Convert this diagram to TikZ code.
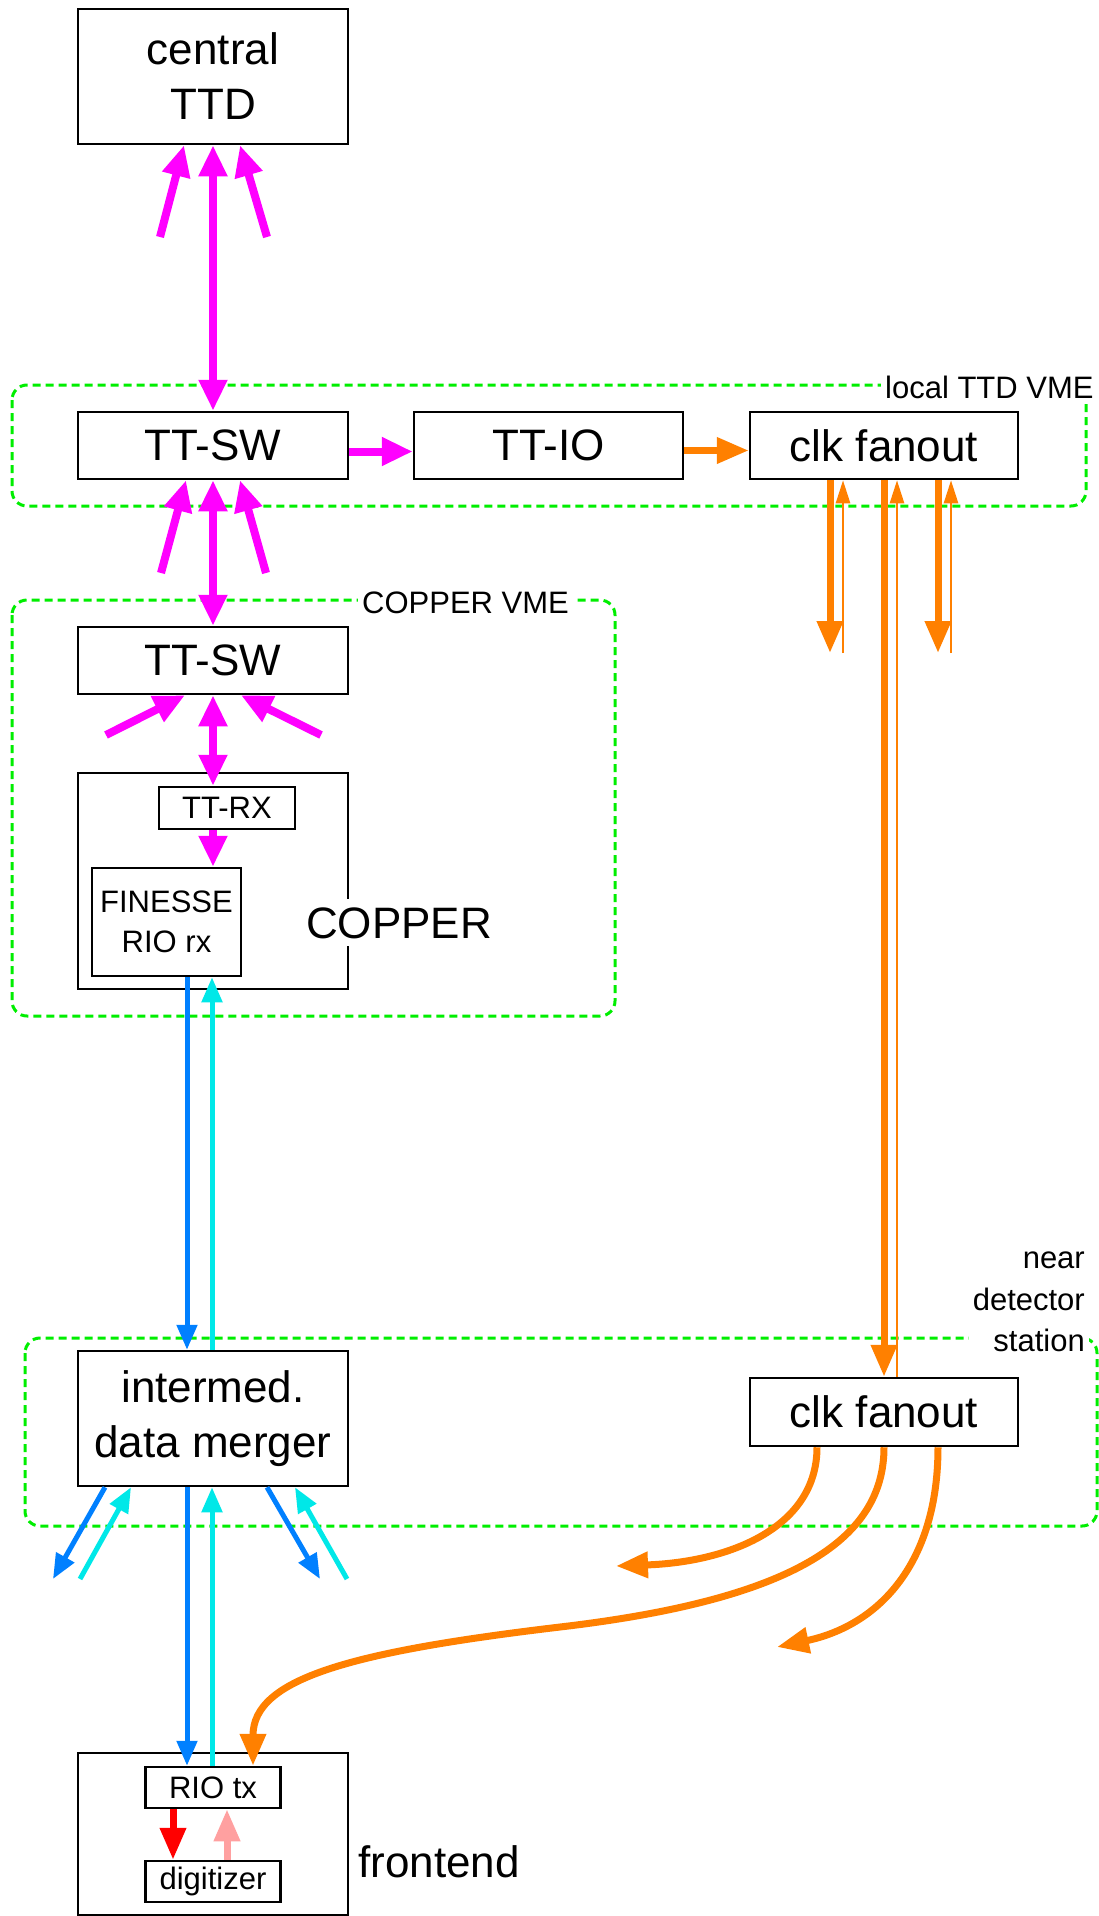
\documentclass[tikz,border=0pt]{standalone}
\usepackage{fontspec}
\setmainfont{Liberation Sans}
\usetikzlibrary{arrows.meta}
\definecolor{ttdMagenta}{HTML}{FF00FF}
\definecolor{ttdOrange}{HTML}{FF8000}
\definecolor{ttdBlue}{HTML}{0080FF}
\definecolor{ttdCyan}{HTML}{00E8E8}
\definecolor{ttdRed}{HTML}{FF0000}
\definecolor{ttdPink}{HTML}{FFA0A0}
\definecolor{ttdGreen}{HTML}{00EE00}

\begin{document}
\begin{tikzpicture}[x=1pt, y=-1pt,
    box/.style={draw, line width=2.5pt, inner sep=0pt, align=center, font=\fontsize{44}{55}\selectfont},
    smallbox/.style={box, font=\fontsize{31}{40}\selectfont},
    crate/.style={draw=ttdGreen, line width=3pt, dash pattern=on 8pt off 5pt, rounded corners=15pt},
    cratelabel/.style={fill=white, inner xsep=4pt, inner ysep=5pt, font=\fontsize{31}{41.5}\selectfont},
    ttlink/.style={ttdMagenta, line width=8pt, -{Triangle[length=31pt,width=27pt]}},
    ttboth/.style={ttlink, {Triangle[length=31pt,width=27pt]}-{Triangle[length=31pt,width=27pt]}},
    clkthick/.style={ttdOrange, line width=7pt, -{Triangle[length=32pt,width=25pt]}},
    clkthin/.style={ttdOrange, line width=2.5pt, -{Triangle[length=23pt,width=14pt]}},
    rxdata/.style={ttdBlue, line width=5pt, -{Triangle[length=25pt,width=20pt]}},
    txdata/.style={ttdCyan, line width=5pt, -{Triangle[length=25pt,width=20pt]}},
    adcdata/.style={line width=7pt, -{Triangle[length=32pt,width=25pt]}}
]
    \useasboundingbox (0,0) rectangle (1099,1916);
    \fill[white] (0,0) rectangle (1099,1916);

    % VME crates and stations
    \draw[crate] (12,385) rectangle (1086,506);
    \draw[crate] (12,600) rectangle (615,1016);
    \draw[crate] (25,1338) rectangle (1097,1526);

    % Boards
    \node[box, minimum width=270pt, minimum height=135pt] (ttd) at (213,76.5) {central\\TTD};
    \node[box, minimum width=270pt, minimum height=67pt] (swA) at (213,445.5) {TT-SW};
    \node[box, minimum width=269pt, minimum height=67pt] (ttio) at (548.5,445.5) {TT-IO};
    \node[box, minimum width=268pt, minimum height=67pt] (clkA) at (884,445.5) {clk fanout};
    \node[box, minimum width=270pt, minimum height=67pt] (swB) at (213,660.5) {TT-SW};
    \node[box, minimum width=270pt, minimum height=216pt] (copper) at (213,881) {};
    \node[smallbox, minimum width=136pt, minimum height=42pt] (ttrx) at (227,808) {TT-RX};
    \node[smallbox, minimum width=149pt, minimum height=108pt] (finesse) at (166.5,922) {FINESSE\\RIO rx};
    \node[box, minimum width=270pt, minimum height=135pt] (merger) at (213,1418.5) {intermed.\\data merger};
    \node[box, minimum width=268pt, minimum height=68pt] (clkB) at (884,1412) {clk fanout};
    \node[box, minimum width=270pt, minimum height=162pt] (frontend) at (213,1834) {};
    \node[smallbox, minimum width=135pt, minimum height=41pt] (riotx) at (213,1787.5) {RIO tx};
    \node[smallbox, minimum width=135pt, minimum height=41pt] (digit) at (213,1881.5) {digitizer};

    % Labels
    \node[cratelabel, anchor=base west] (localLbl) at (881,398) {local TTD VME};
    \node[cratelabel, anchor=base west] (copperVmeLbl) at (358,613) {COPPER VME};
    \node[cratelabel, align=right, anchor=east] (nearLbl) at (1089,1302) {near\\detector\\station};
    \node[fill=white, inner xsep=4pt, inner ysep=8pt, anchor=base west, font=\fontsize{44}{55}\selectfont] (copperLbl) at (302,938) {COPPER};
    \node[inner sep=0pt, anchor=base west, font=\fontsize{44}{55}\selectfont] (frontendLbl) at (358,1877) {frontend};

    % Timing links
    \coordinate (ttdInL) at (160,237);
    \coordinate (ttdInR) at (267,237);
    \draw[ttlink] (ttdInL) -- ([xshift=-29pt]ttd.south);
    \draw[ttlink] (ttdInR) -- ([xshift=27pt]ttd.south);
    \draw[ttboth] (ttd) -- (swA);
    \draw[ttlink] ([yshift=-6pt]swA.east) -- ([yshift=-6pt]ttio.west);
    \draw[clkthick] ([yshift=-5pt]ttio.east) -- ([yshift=-5pt]clkA.west);

    \coordinate (swInL) at (161,573);
    \coordinate (swInR) at (266,573);
    \draw[ttlink] (swInL) -- ([xshift=-27pt]swA.south);
    \draw[ttlink] (swInR) -- ([xshift=27pt]swA.south);
    \draw[ttboth] (swA) -- (swB);

    \coordinate (cpInL) at (106,735);
    \coordinate (cpInR) at (321,735);
    \draw[ttlink] (cpInL) -- ([xshift=-28pt]swB.south);
    \draw[ttlink] (cpInR) -- ([xshift=28pt]swB.south);
    \draw[ttboth] (swB.south) -- ([xshift=-14pt]ttrx.north);
    \draw[ttlink] ([xshift=-14pt]ttrx.south) -- ([xshift=46.5pt]finesse.north);

    % Data links
    \draw[rxdata] ([xshift=20.5pt]finesse.south) -- ([xshift=-26pt]merger.north);
    \draw[txdata] ([xshift=-1pt]merger.north) -- ([xshift=45.5pt]finesse.south);

    \coordinate (mgOutL) at (53,1579);
    \coordinate (mgInL) at (80,1579);
    \coordinate (mgOutR) at (320,1579);
    \coordinate (mgInR) at (347,1579);
    \draw[rxdata] ([xshift=-108pt]merger.south) -- (mgOutL);
    \draw[txdata] (mgInL) -- ([xshift=-82pt]merger.south);
    \draw[rxdata] ([xshift=54pt]merger.south) -- (mgOutR);
    \draw[txdata] (mgInR) -- ([xshift=82pt]merger.south);
    \draw[rxdata] ([xshift=-26pt]merger.south) -- ([xshift=-26pt]riotx.north);
    \draw[txdata] ([xshift=-1pt]riotx.north) -- ([xshift=-1pt]merger.south);

    \draw[adcdata, ttdRed] ([xshift=-40pt]riotx.south) -- ([xshift=-40pt]digit.north);
    \draw[adcdata, ttdPink] ([xshift=14pt]digit.north) -- ([xshift=14pt]riotx.south);

    % Clock distribution
    \coordinate (clkOutL) at (830,653);
    \coordinate (clkInL) at (843,653);
    \coordinate (clkOutR) at (938,653);
    \coordinate (clkInR) at (951,653);
    \draw[clkthick] ([xshift=-54pt]clkA.south) -- (clkOutL);
    \draw[clkthin] (clkInL) -- ([xshift=-41pt]clkA.south);
    \draw[clkthick] (clkA) -- (clkB);
    \draw[clkthin] ([xshift=13pt]clkB.north) -- ([xshift=13pt]clkA.south);
    \draw[clkthick] ([xshift=54pt]clkA.south) -- (clkOutR);
    \draw[clkthin] (clkInR) -- ([xshift=67pt]clkA.south);

    \coordinate (clkFarL) at (616,1566);
    \coordinate (clkBend) at (560,1627);
    \coordinate (clkFarR) at (777,1647);
    \draw[clkthick] ([xshift=-67pt]clkB.south) .. controls +(0,80) and +(114,-4) .. (clkFarL);
    \draw[clkthick] (clkB.south) .. controls +(0,94) and +(230,-27) .. (clkBend) .. controls +(-210,25) and +(0,-87) .. ([xshift=40pt]riotx.north);
    \draw[clkthick] ([xshift=54pt]clkB.south) .. controls +(0,115) and +(103,-22) .. (clkFarR);
\end{tikzpicture}
\end{document}
